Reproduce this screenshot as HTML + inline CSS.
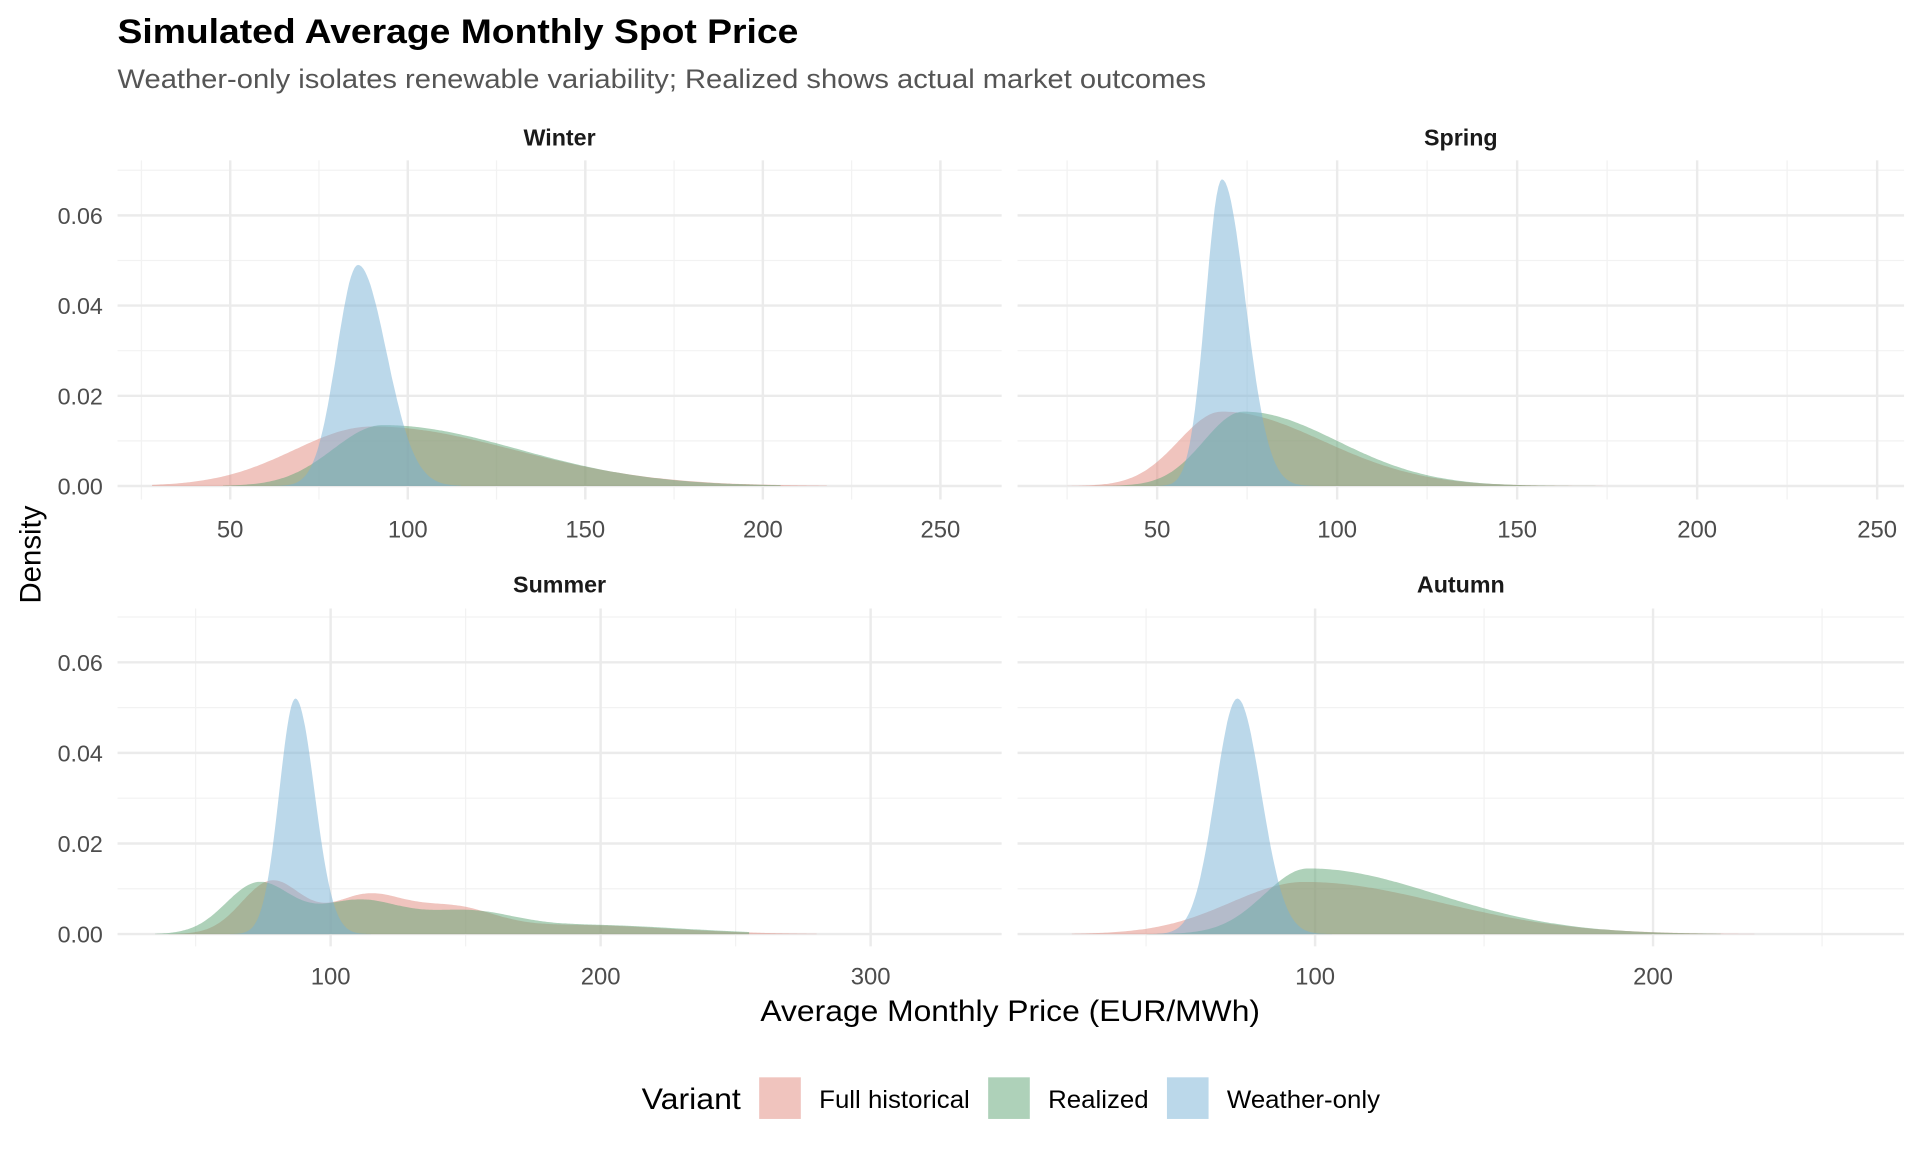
<!DOCTYPE html>
<html><head><meta charset="utf-8"><style>
html,body{margin:0;padding:0;background:#fff;}
svg{display:block;}
text{font-family:"Liberation Sans",sans-serif;}
</style></head><body>
<svg id="s" width="1920" height="1152" viewBox="0 0 1568 941" preserveAspectRatio="none" xmlns="http://www.w3.org/2000/svg">
<text x="96" y="35" font-size="28" font-weight="bold" fill="#000" textLength="556" lengthAdjust="spacingAndGlyphs">Simulated Average Monthly Spot Price</text>
<text x="96" y="72" font-size="22" fill="#555" textLength="889" lengthAdjust="spacingAndGlyphs">Weather-only isolates renewable variability; Realized shows actual market outcomes</text>
<text x="621" y="834" font-size="24" fill="#000" textLength="408" lengthAdjust="spacingAndGlyphs">Average Monthly Price (EUR/MWh)</text>
<text transform="translate(33,453) rotate(-90)" font-size="24" text-anchor="middle" fill="#000">Density</text>
<text x="524" y="906" font-size="24" fill="#000" textLength="81" lengthAdjust="spacingAndGlyphs">Variant</text>
<rect x="620" y="880" width="34" height="34" fill="#F0C4BE"/>
<text x="669" y="905" font-size="20.5" fill="#000" textLength="123" lengthAdjust="spacingAndGlyphs">Full historical</text>
<rect x="807" y="880" width="34" height="34" fill="#AED1B9"/>
<text x="856" y="905" font-size="20.5" fill="#000" textLength="82" lengthAdjust="spacingAndGlyphs">Realized</text>
<rect x="953" y="880" width="34" height="34" fill="#BBD8EA"/>
<text x="1002" y="905" font-size="20.5" fill="#000" textLength="125" lengthAdjust="spacingAndGlyphs">Weather-only</text>
<g id="g"></g>
</svg>
<script>
var g=document.getElementById('g'),h='';
function sn(A,m,l,r){return function(x){var s=x<m?l:r;return A*Math.exp(-0.5*Math.pow((x-m)/s,2));};}
function gs(A,m,s){return sn(A,m,s,s);}
function sum(fs){return function(x){var t=0;fs.forEach(function(f){t+=f(x);});return t;};}
var P=[
{name:'Winter',x0:96,x1:818,top:131,bot:408,y0:397,ys:3685,px0:333,pu:2.9,c0:100,ticks:[50,100,150,200,250],minor:[25,75,125,175,225],strip:112,tl:432,
 f:[sn(.0132,90,22,40),sn(.0135,93,14,38),sn(.049,86,6,8)],rng:[[28,218],[48,205],[60,115]]},
{name:'Spring',x0:831,x1:1555,top:131,bot:408,y0:397,ys:3685,px0:1092,pu:2.94,c0:100,ticks:[50,100,150,200,250],minor:[25,75,125,175,225],strip:112,tl:432,
 f:[sn(.0165,68,12,28),sn(.0165,74,11,26),sn(.068,68,4.5,6.5)],rng:[[25,185],[25,180],[50,95]]},
{name:'Summer',x0:96,x1:818,top:497,bot:773,y0:763,ys:3700,px0:270,pu:2.205,c0:100,ticks:[100,200,300],minor:[50,150,250,350],strip:477,tl:797,
 f:[sum([gs(.0115,78,11),gs(.0082,113,14),gs(.005,145,15),gs(.002,190,35)]),sum([gs(.011,73,12),gs(.0072,110,16),gs(.0042,150,17),gs(.002,195,35)]),sn(.052,87,6,7)],rng:[[40,280],[35,255],[60,115]]},
{name:'Autumn',x0:831,x1:1555,top:497,bot:773,y0:763,ys:3700,px0:1074,pu:2.76,c0:100,ticks:[100,200],minor:[50,150,250],strip:477,tl:797,
 f:[sn(.0115,97,22,40),sn(.0145,98,13,38),sn(.052,77,6.5,7)],rng:[[28,230],[50,220],[50,105]]}
];
var cols=['rgba(225,137,125,0.5)','rgba(93,163,115,0.5)','rgba(119,177,213,0.5)'];
P.forEach(function(p){
 function X(v){return p.px0+(v-p.c0)*p.pu;}
 function Y(d){return p.y0-d*p.ys;}
 [0.01,0.03,0.05,0.07].forEach(function(d){var y=Y(d);if(y>p.top)h+='<line x1="'+p.x0+'" x2="'+p.x1+'" y1="'+y+'" y2="'+y+'" stroke="#F2F2F2" stroke-width="1"/>';});
 p.minor.forEach(function(v){var x=X(v);if(x>p.x0&&x<p.x1)h+='<line x1="'+x+'" x2="'+x+'" y1="'+p.top+'" y2="'+p.bot+'" stroke="#F2F2F2" stroke-width="1"/>';});
 [0,0.02,0.04,0.06].forEach(function(d){var y=Y(d);h+='<line x1="'+p.x0+'" x2="'+p.x1+'" y1="'+y+'" y2="'+y+'" stroke="#EBEBEB" stroke-width="2"/>';
  if(p.x0<100)h+='<text x="84" y="'+(y+7)+'" font-size="19" fill="#4D4D4D" text-anchor="end">'+d.toFixed(2)+'</text>';});
 p.ticks.forEach(function(v){var x=X(v);h+='<line x1="'+x+'" x2="'+x+'" y1="'+p.top+'" y2="'+p.bot+'" stroke="#EBEBEB" stroke-width="2"/>';
  h+='<text x="'+x+'" y="'+(p.tl+7)+'" font-size="19.5" fill="#4D4D4D" text-anchor="middle">'+v+'</text>';});
 h+='<text x="'+((p.x0+p.x1)/2)+'" y="'+(p.strip+7)+'" font-size="19" font-weight="bold" fill="#1A1A1A" text-anchor="middle">'+p.name+'</text>';
 p.f.forEach(function(f,i){var a=p.rng[i][0],b=p.rng[i][1],d='M'+X(a)+','+p.y0;
  for(var v=a;v<=b;v+=0.5){d+=' L'+X(v).toFixed(1)+','+Y(f(v)).toFixed(1);}
  d+=' L'+X(b)+','+p.y0+'Z';h+='<path d="'+d+'" fill="'+cols[i]+'"/>';});
});
g.innerHTML=h;
</script>
</body></html>
